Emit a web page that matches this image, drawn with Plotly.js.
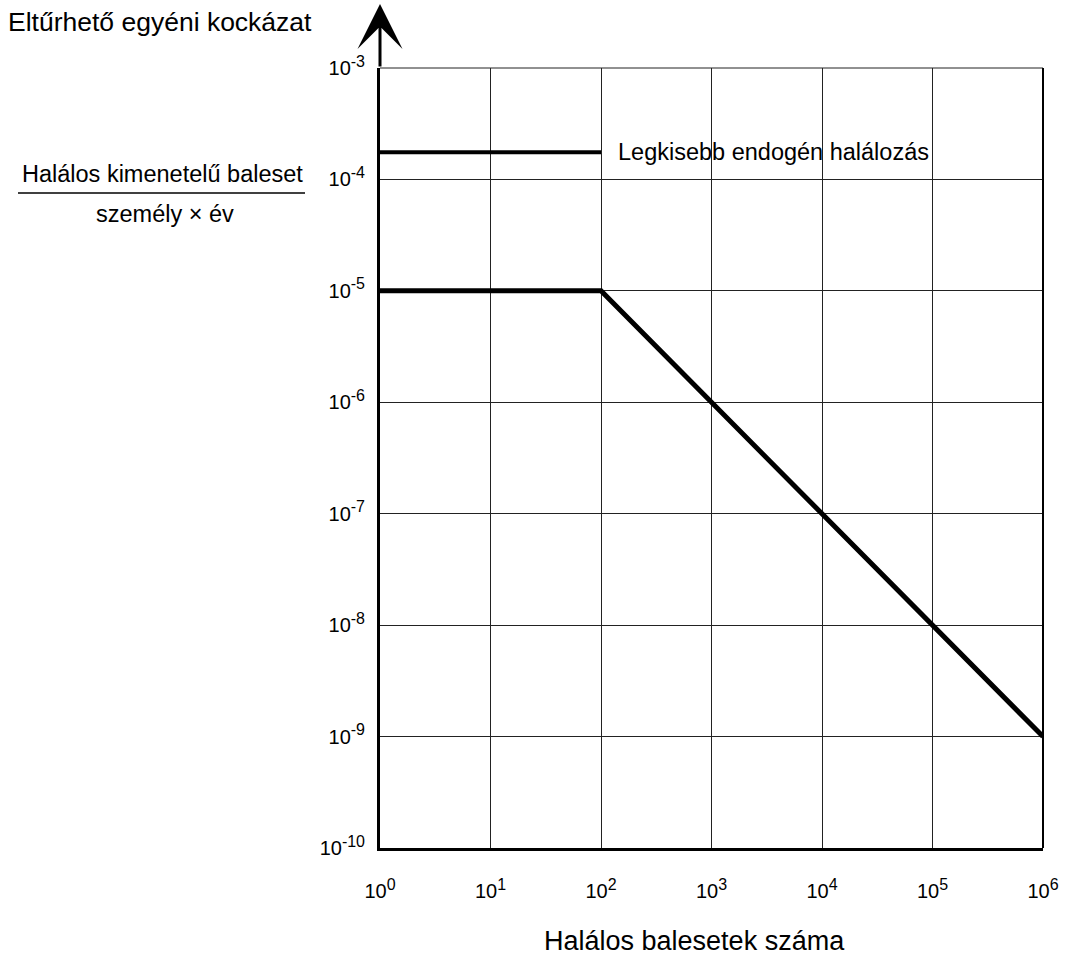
<!DOCTYPE html>
<html>
<head>
<meta charset="utf-8">
<script src="https://cdn.plot.ly/plotly-3.0.1.min.js"></script>
<style>
html,body{margin:0;padding:0;background:#fff;}
#chart{width:1071px;height:955px;}
</style>
</head>
<body>
<div id="chart"></div>
<script>
// ---- data ----
const limitX = [1, 100, 1e6];
const limitY = [1e-5, 1e-5, 1e-9];
const endoX = [1, 100];
const endoY = [1.75e-4, 1.75e-4];
const endoLabel = 'Legkisebb endogén halálozás';
const xTickVals = [1, 10, 100, 1e3, 1e4, 1e5, 1e6];
const xTickExp = ['0', '1', '2', '3', '4', '5', '6'];
const yTickVals = [1e-10, 1e-9, 1e-8, 1e-7, 1e-6, 1e-5, 1e-4, 1e-3];
const yTickExp = ['-10', '-9', '-8', '-7', '-6', '-5', '-4', '-3'];
const xTitle = 'Halálos balesetek száma';
const yTitleTop = 'Eltűrhető egyéni kockázat';
const yNumer = 'Halálos kimenetelű baleset';
const yDenom = 'személy × év';

const supText = e => '10<sup><span style="font-size:16px">' + e + '</span></sup>';

// ---- layout geometry (pixels) ----
const W = 1071, H = 955;
const M = {l: 380, r: 28, t: 68, b: 107};
const PW = W - M.l - M.r, PH = H - M.t - M.b;
const px = x => (x - M.l) / PW;          // pixel x -> paper
const py = y => (H - M.b - y) / PH;      // pixel y -> paper

const FONT = 'Liberation Sans, Arial, sans-serif';

const traces = [
  {x: limitX, y: limitY, type: 'scatter', mode: 'lines',
   line: {color: '#000', width: 5}, hoverinfo: 'skip', showlegend: false},
  {x: endoX, y: endoY, type: 'scatter', mode: 'lines',
   line: {color: '#000', width: 4}, hoverinfo: 'skip', showlegend: false}
];

const layout = {
  width: W, height: H,
  margin: M,
  paper_bgcolor: '#fff', plot_bgcolor: '#fff',
  font: {family: FONT, color: '#000', size: 20},
  showlegend: false,
  xaxis: {
    type: 'log', range: [0, 6],
    tickvals: xTickVals, ticktext: xTickExp.map(supText),
    showgrid: true, gridcolor: '#222', gridwidth: 1,
    showline: true, linecolor: '#000', linewidth: 3,
    zeroline: false, ticks: '', ticklabelstandoff: 23,
    tickfont: {family: FONT, size: 20, color: '#000'}
  },
  yaxis: {
    type: 'log', range: [-10, -3],
    tickvals: yTickVals, ticktext: yTickExp.map(supText),
    showgrid: true, gridcolor: '#222', gridwidth: 1,
    showline: true, linecolor: '#000', linewidth: 3,
    zeroline: false, ticks: '', ticklabelstandoff: 8,
    tickfont: {family: FONT, size: 20, color: '#000'}
  },
  shapes: [
    {type: 'line', xref: 'paper', yref: 'paper', x0: 0, x1: 1, y0: 1, y1: 1,
     line: {color: '#222', width: 1}},
    {type: 'line', xref: 'paper', yref: 'paper', x0: 1, x1: 1, y0: 0, y1: 1,
     line: {color: '#000', width: 2}},
    {type: 'line', xref: 'paper', yref: 'paper', x0: px(18), x1: px(305), y0: py(193), y1: py(193),
     line: {color: '#000', width: 1.5}}
  ],
  annotations: [
    {xref: 'paper', yref: 'paper', x: 0, y: py(4), ax: 0, ay: 64, axref: 'pixel', ayref: 'pixel',
     text: '', showarrow: true, arrowhead: 3, arrowsize: 2.5, arrowwidth: 3, arrowcolor: '#000'},
    {xref: 'paper', yref: 'paper', x: px(6), y: py(22), xanchor: 'left', yanchor: 'middle',
     text: yTitleTop, showarrow: false, font: {family: FONT, size: 26.5, color: '#000'}},
    {xref: 'paper', yref: 'paper', x: px(162), y: py(174), xanchor: 'center', yanchor: 'middle',
     text: yNumer, showarrow: false, font: {family: FONT, size: 23.5, color: '#000'}},
    {xref: 'paper', yref: 'paper', x: px(165), y: py(214), xanchor: 'center', yanchor: 'middle',
     text: yDenom, showarrow: false, font: {family: FONT, size: 23.5, color: '#000'}},
    {xref: 'paper', yref: 'paper', x: px(694), y: py(941), xanchor: 'center', yanchor: 'middle',
     text: xTitle, showarrow: false, font: {family: FONT, size: 27, color: '#000'}},
    {xref: 'x', yref: 'y', x: Math.log10(endoX[endoX.length-1]), y: Math.log10(endoY[0]),
     xanchor: 'left', yanchor: 'middle', xshift: 15,
     text: endoLabel, showarrow: false, font: {family: FONT, size: 23.5, color: '#000'}}
  ]
};

Plotly.newPlot('chart', traces, layout, {staticPlot: true, displayModeBar: false});
</script>
</body>
</html>
